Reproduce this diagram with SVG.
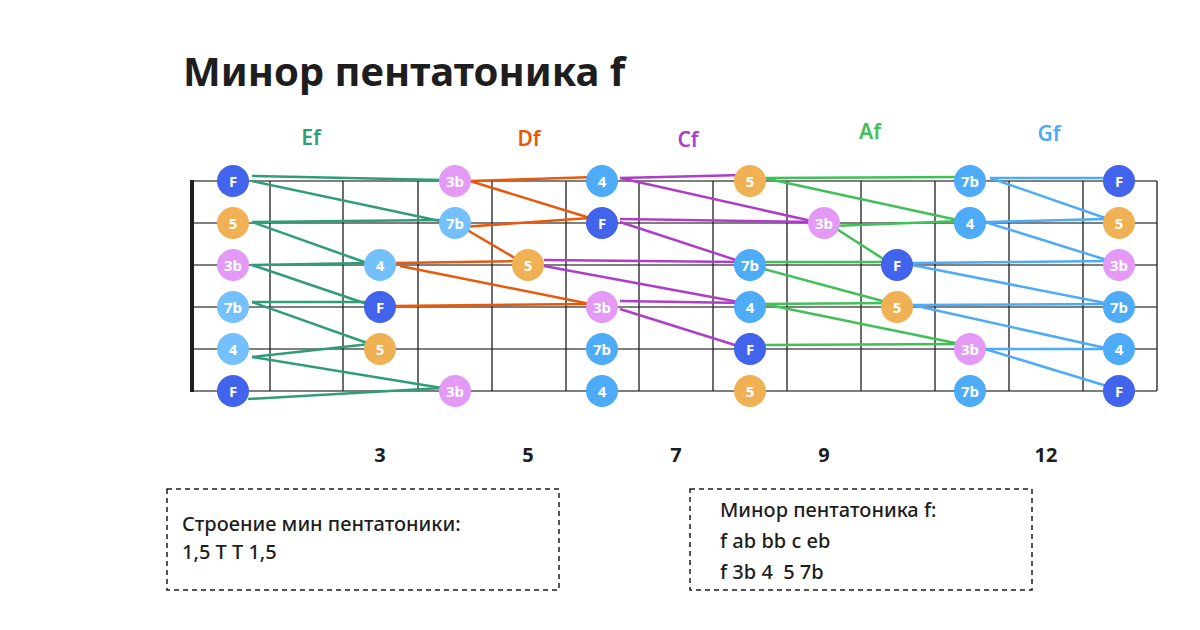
<svg xmlns="http://www.w3.org/2000/svg" width="1200" height="630" viewBox="0 0 1200 630">
<style>
.fr{stroke:#1e1e1e;stroke-width:1.3}
.st{stroke:#555;stroke-width:1.5}
.n text{font-family:"Noto Sans",sans-serif;font-weight:700;font-size:15px;fill:#fff;text-anchor:middle;dominant-baseline:central}
.t{font-family:"Noto Sans",sans-serif;fill:#1e1e1e}
.lbl{font-family:"Noto Sans",sans-serif;font-size:21px;font-weight:600;text-anchor:middle}
.c line{stroke-width:2.5;fill:none}
.F{fill:#4263eb}.P5{fill:#f0b155}.P3{fill:#e599f7}.P4{fill:#4dabf7}.P7{fill:#4dabf7}.L{fill:#74c0fc}
.box{fill:none;stroke:#1e1e1e;stroke-width:1.5;stroke-dasharray:5 4}
.bt{font-size:20px;font-weight:500}
</style>
<rect width="1200" height="630" fill="#fff"/>
<text class="t" x="183" y="86" font-size="40" font-weight="700">Минор пентатоника f</text>
<g id="labels">
<text class="lbl" x="311" y="145" fill="#2f9e77">Ef</text>
<text class="lbl" x="529" y="146" fill="#e8590c">Df</text>
<text class="lbl" x="688" y="147" fill="#ae3ec9">Cf</text>
<text class="lbl" x="870" y="139" fill="#40c057">Af</text>
<text class="lbl" x="1049" y="141" fill="#4dabf7">Gf</text>
</g>
<g id="fretboard">
<line class="st" x1="192" y1="181" x2="1157" y2="181"/>
<line class="st" x1="192" y1="223" x2="1157" y2="223"/>
<line class="st" x1="192" y1="265" x2="1157" y2="265"/>
<line class="st" x1="192" y1="307" x2="1157" y2="307"/>
<line class="st" x1="192" y1="349" x2="1157" y2="349"/>
<line class="st" x1="192" y1="391" x2="1157" y2="391"/>
<rect x="190" y="180" width="4" height="212" fill="#1e1e1e"/>
<g class="fr">
<line x1="270" y1="181" x2="270" y2="391"/><line x1="343" y1="181" x2="343" y2="391"/>
<line x1="418" y1="181" x2="418" y2="391"/><line x1="492" y1="181" x2="492" y2="391"/>
<line x1="566" y1="181" x2="566" y2="391"/><line x1="639" y1="181" x2="639" y2="391"/>
<line x1="713" y1="181" x2="713" y2="391"/><line x1="787" y1="181" x2="787" y2="391"/>
<line x1="861" y1="181" x2="861" y2="391"/><line x1="935" y1="181" x2="935" y2="391"/>
<line x1="1009" y1="181" x2="1009" y2="391"/><line x1="1083" y1="181" x2="1083" y2="391"/>
<line x1="1157" y1="181" x2="1157" y2="391"/>
</g>
</g>
<g id="fretnums" class="t" font-size="20" font-weight="700" text-anchor="middle">
<text x="380" y="462">3</text><text x="528" y="462">5</text><text x="676" y="462">7</text><text x="824" y="462">9</text><text x="1046" y="462">12</text>
</g>
<g id="connectors" class="c">
<g stroke="#2f9e77">
<line x1="252" y1="176" x2="442" y2="180"/><line x1="252" y1="181" x2="440" y2="221"/>
<line x1="252" y1="222" x2="440" y2="220"/><line x1="252" y1="222" x2="367" y2="263"/>
<line x1="252" y1="265" x2="367" y2="263"/><line x1="252" y1="265" x2="367" y2="304"/>
<line x1="252" y1="302" x2="367" y2="302"/><line x1="252" y1="302" x2="370" y2="344"/>
<line x1="252" y1="357" x2="370" y2="344"/><line x1="252" y1="357" x2="442" y2="388"/>
<line x1="248" y1="399" x2="442" y2="388"/>
</g>
<g stroke="#e8590c">
<line x1="470" y1="181" x2="596" y2="177"/><line x1="470" y1="181" x2="590" y2="218"/>
<line x1="462" y1="227" x2="590" y2="218"/><line x1="462" y1="227" x2="520" y2="261"/>
<line x1="396" y1="263" x2="520" y2="261"/><line x1="400" y1="266" x2="590" y2="304"/>
<line x1="394" y1="306" x2="590" y2="304"/>
</g>
<g stroke="#ae3ec9">
<line x1="620" y1="178" x2="744" y2="175"/><line x1="620" y1="178" x2="816" y2="222"/>
<line x1="620" y1="219" x2="816" y2="222"/><line x1="620" y1="222" x2="742" y2="262"/>
<line x1="544" y1="260" x2="742" y2="262"/><line x1="544" y1="266" x2="744" y2="303"/>
<line x1="620" y1="301" x2="744" y2="303"/><line x1="620" y1="309" x2="738" y2="346"/>
</g>
<g stroke="#40c057">
<line x1="764" y1="178" x2="960" y2="177"/><line x1="764" y1="178" x2="962" y2="221"/>
<line x1="832" y1="226" x2="962" y2="221"/><line x1="832" y1="226" x2="888" y2="262"/>
<line x1="760" y1="262" x2="888" y2="262"/><line x1="760" y1="268" x2="890" y2="303"/>
<line x1="764" y1="304" x2="890" y2="303"/><line x1="764" y1="304" x2="960" y2="344"/>
<line x1="762" y1="345" x2="960" y2="344"/>
</g>
<g stroke="#4dabf7">
<line x1="990" y1="178" x2="1112" y2="178"/><line x1="990" y1="178" x2="1108" y2="219"/>
<line x1="985" y1="222" x2="1108" y2="219"/><line x1="985" y1="222" x2="1110" y2="261"/>
<line x1="912" y1="263" x2="1110" y2="261"/><line x1="912" y1="265" x2="1110" y2="304"/>
<line x1="912" y1="305" x2="1110" y2="304"/><line x1="912" y1="305" x2="1110" y2="349"/>
<line x1="985" y1="349" x2="1110" y2="349"/><line x1="985" y1="349" x2="1110" y2="387"/>
</g>
</g>
<g id="nodes" class="n">
<g id="n1"><circle class="F" cx="233" cy="181" r="16"/><text x="233" y="181">F</text></g>
<g id="n2"><circle class="P3" cx="455" cy="181" r="16"/><text x="455" y="181">3b</text></g>
<g id="n3"><circle class="P4" cx="602" cy="181" r="16"/><text x="602" y="181">4</text></g>
<g id="n4"><circle class="P5" cx="750" cy="181" r="16"/><text x="750" y="181">5</text></g>
<g id="n5"><circle class="P7" cx="970" cy="181" r="16"/><text x="970" y="181">7b</text></g>
<g id="n6"><circle class="F" cx="1119" cy="181" r="16"/><text x="1119" y="181">F</text></g>
<g id="n7"><circle class="P5" cx="233" cy="223" r="16"/><text x="233" y="223">5</text></g>
<g id="n8"><circle class="L" cx="455" cy="223" r="16"/><text x="455" y="223">7b</text></g>
<g id="n9"><circle class="F" cx="602" cy="223" r="16"/><text x="602" y="223">F</text></g>
<g id="n10"><circle class="P3" cx="824" cy="223" r="16"/><text x="824" y="223">3b</text></g>
<g id="n11"><circle class="P4" cx="970" cy="223" r="16"/><text x="970" y="223">4</text></g>
<g id="n12"><circle class="P5" cx="1119" cy="223" r="16"/><text x="1119" y="223">5</text></g>
<g id="n13"><circle class="P3" cx="233" cy="265" r="16"/><text x="233" y="265">3b</text></g>
<g id="n14"><circle class="L" cx="380" cy="265" r="16"/><text x="380" y="265">4</text></g>
<g id="n15"><circle class="P5" cx="528" cy="265" r="16"/><text x="528" y="265">5</text></g>
<g id="n16"><circle class="P7" cx="750" cy="265" r="16"/><text x="750" y="265">7b</text></g>
<g id="n17"><circle class="F" cx="897" cy="265" r="16"/><text x="897" y="265">F</text></g>
<g id="n18"><circle class="P3" cx="1119" cy="265" r="16"/><text x="1119" y="265">3b</text></g>
<g id="n19"><circle class="L" cx="233" cy="307" r="16"/><text x="233" y="307">7b</text></g>
<g id="n20"><circle class="F" cx="380" cy="307" r="16"/><text x="380" y="307">F</text></g>
<g id="n21"><circle class="P3" cx="602" cy="307" r="16"/><text x="602" y="307">3b</text></g>
<g id="n22"><circle class="P4" cx="750" cy="307" r="16"/><text x="750" y="307">4</text></g>
<g id="n23"><circle class="P5" cx="897" cy="307" r="16"/><text x="897" y="307">5</text></g>
<g id="n24"><circle class="P7" cx="1119" cy="307" r="16"/><text x="1119" y="307">7b</text></g>
<g id="n25"><circle class="L" cx="233" cy="349" r="16"/><text x="233" y="349">4</text></g>
<g id="n26"><circle class="P5" cx="380" cy="349" r="16"/><text x="380" y="349">5</text></g>
<g id="n27"><circle class="P7" cx="602" cy="349" r="16"/><text x="602" y="349">7b</text></g>
<g id="n28"><circle class="F" cx="750" cy="349" r="16"/><text x="750" y="349">F</text></g>
<g id="n29"><circle class="P3" cx="970" cy="349" r="16"/><text x="970" y="349">3b</text></g>
<g id="n30"><circle class="P4" cx="1119" cy="349" r="16"/><text x="1119" y="349">4</text></g>
<g id="n31"><circle class="F" cx="233" cy="391" r="16"/><text x="233" y="391">F</text></g>
<g id="n32"><circle class="P3" cx="455" cy="391" r="16"/><text x="455" y="391">3b</text></g>
<g id="n33"><circle class="P4" cx="602" cy="391" r="16"/><text x="602" y="391">4</text></g>
<g id="n34"><circle class="P5" cx="750" cy="391" r="16"/><text x="750" y="391">5</text></g>
<g id="n35"><circle class="P7" cx="970" cy="391" r="16"/><text x="970" y="391">7b</text></g>
<g id="n36"><circle class="F" cx="1119" cy="391" r="16"/><text x="1119" y="391">F</text></g>
</g>
<g id="box1">
<rect class="box" x="167" y="489" width="392" height="101"/>
<text class="t bt" x="182" y="531">Строение мин пентатоники:</text>
<text class="t bt" x="182" y="559">1,5 Т Т 1,5</text>
</g>
<g id="box2">
<rect class="box" x="690" y="489" width="342" height="101"/>
<text class="t bt" x="720" y="517">Минор пентатоника f:</text>
<text class="t bt" x="720" y="548">f ab bb c eb</text>
<text class="t bt" x="720" y="579" xml:space="preserve">f 3b 4  5 7b</text>
</g>
</svg>
